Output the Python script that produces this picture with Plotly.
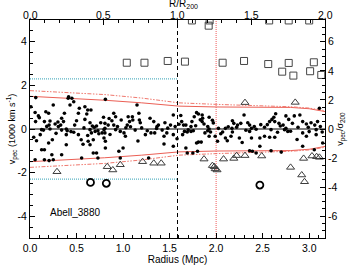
import plotly.graph_objects as go

# ---------------- data (R in Mpc, v in 1000 km/s) ----------------
R200_MPC = 1.585
R_LIMIT = 2.0
V_CUT = 2.3
SIGMA_RATIO = 7.5 / 5.0

member_r = [0.062, 0.01, 0.055, 0.17, 0.20, 0.06, 0.155, 0.215, 0.25, 0.27, 0.205, 0.34, 0.36, 0.33, 0.305,
            0.41, 0.45, 0.43, 0.47, 0.37, 0.52, 0.50, 0.48, 0.59, 0.62, 0.655, 0.61, 0.59, 0.645, 0.67,
            0.715, 0.76, 0.79, 0.145, 0.215, 0.34, 0.39, 0.415, 0.81,
            0.90, 0.92, 0.88, 0.805, 0.84, 0.805, 0.90, 0.98, 1.055, 1.07, 1.10, 1.105, 1.045, 1.15, 1.17,
            1.175, 1.185, 1.13, 1.29, 1.33, 1.38, 1.365, 1.45, 1.51, 1.54, 1.56, 0.94,
            1.63, 1.65, 1.675, 1.74, 1.73, 1.765, 1.79, 1.81, 1.85, 1.855, 1.85, 1.87, 1.91, 1.925, 1.925,
            2.025, 2.10, 2.175, 2.19, 2.23, 2.265, 2.30, 2.34, 2.36, 2.17,
            2.38, 2.41, 2.43, 2.52, 2.575, 2.60, 2.62, 2.63, 2.675, 2.69, 2.72, 2.75, 2.75, 2.78, 2.82,
            2.84, 2.90, 2.93, 2.97, 3.02, 3.06, 3.09, 3.11, 3.12,
            0.125, 0.11, 0.07, 0.20, 0.24, 0.125, 0.155, 0.055, 0.155, 0.205, 0.25, 0.235, 0.34, 0.39,
            0.39, 0.52, 0.55, 0.555, 0.645, 0.66, 0.70, 0.73, 0.625, 0.645, 0.68, 0.68, 0.715, 0.73, 0.775, 0.40,
            0.795, 0.805, 0.795, 0.81, 0.81, 0.92, 0.97, 1.01, 1.025, 1.0, 0.955, 0.97, 1.24, 1.30, 1.34,
            1.275, 1.44, 1.44, 1.47, 1.54, 1.54,
            1.64, 1.66, 1.69, 1.73, 1.755, 1.675, 1.69, 1.75, 1.79, 1.81, 1.84, 1.80, 1.91, 1.94, 1.925,
            1.99, 2.015, 2.07, 2.10, 2.12, 2.175, 2.16, 2.25, 2.36, 2.36,
            2.38, 2.47, 2.52, 2.575, 2.63, 2.59, 2.735, 2.77, 2.93, 2.97, 3.075, 3.075, 2.47, 2.39, 2.43,
            2.59, 2.70, 2.93, 3.055, 3.145,
            0.04, 0.09, 0.28, 0.47, 0.58, 0.86, 1.20, 1.42, 1.60, 2.05, 2.48, 2.88, 3.00, 1.08, 0.62,
            2.22, 2.66, 1.36, 0.30, 1.97,
            0.18, 0.44, 0.69, 0.74, 1.03, 1.26, 1.48, 1.70, 1.78, 1.88, 2.13, 2.32, 2.55, 2.80, 2.99, 3.14,
            0.10, 0.57, 0.85, 1.16, 1.58, 1.83, 2.28, 2.64, 2.87, 1.96, 0.53, 1.62]
member_v = [1.44, 1.02, 0.76, 0.79, 0.72, 0.34, 0.34, 0.37, 1.10, 0.23, 0.18, 0.49, 0.34, 0.18, 0.11,
            1.41, 1.41, 1.10, 1.25, 0.72, 0.72, 0.38, 0.18, 1.02, 0.87, 0.87, 0.69, 0.44, 0.29, 0.14,
            0.14, 0.29, 0.54, -0.05, 0.0, -0.05, 0.0, 1.48, 1.36,
            0.72, 0.56, 0.38, 0.26, 0.18, 0.03, 0.18, 0.41, 0.56, 0.34, 0.56, 0.41, 0.18, 1.10, 0.72,
            0.41, 0.29, -0.05, 0.49, 0.34, 0.18, 0.11, 0.29, 0.18, 0.64, 0.11, 0.11,
            0.34, 0.18, 0.18, 0.34, 0.11, 0.56, 0.75, 0.69, 0.64, 0.49, 0.34, 0.23, 0.11, 0.54, 0.0,
            0.03, 0.03, 0.38, 0.26, 0.18, 0.26, 0.64, 0.29, 0.18, 0.03,
            0.03, 0.11, -0.01, 0.08, 0.34, 0.44, 0.54, 0.34, 0.26, 0.14, 0.18, 0.03, 0.60, 0.44, 0.26,
            0.60, 0.64, 0.34, 0.23, 0.29, 0.18, 0.34, 0.95, 0.11,
            -0.03, -0.26, -0.54, -0.64, -0.49, -0.95, -0.95, -1.41, -1.41, -1.45, -1.41, -1.18, -1.18, -0.26,
            -0.72, -0.26, -0.49, -1.33, -0.03, -0.18, -0.11, -0.08, -0.56, -0.72, -0.49, -1.10, -1.10, -1.33, -0.18, -0.08,
            -0.03, -0.18, -0.41, -0.56, -0.87, -0.03, -0.11, -0.18, -0.33, -0.87, -1.02, -1.33, -0.26, -0.18, -0.18,
            -1.33, -0.33, -0.69, -0.18, -0.26, -0.79,
            -0.26, -0.11, -0.14, -0.11, -0.08, -0.87, -1.10, -1.10, -0.64, -0.60, -0.60, -1.02, -0.08, -0.14, -0.33,
            -0.33, -0.56, -0.14, -0.41, -0.54, -0.14, -0.33, -0.41, -0.11, -1.00,
            -0.41, -0.41, -0.33, -0.38, -0.38, -0.03, -0.03, -0.11, -0.18, -0.33, -0.26, -0.03, -0.79, -1.02, -1.10,
            -1.00, -1.06, -0.79, -0.95, -0.64,
            -0.38, 0.60, -0.20, -0.15, 0.05, -0.25, 0.05, -0.05, 0.22, -0.22, 0.20, 0.08, -0.12, 0.10, -0.30,
            0.08, -0.15, 0.02, 0.32, 0.28,
            0.12, -0.12, 0.08, -0.22, 0.06, -0.08, 0.04, -0.04, 0.15, -0.18, 0.10, -0.06, 0.20, -0.10, 0.08, -0.14,
            0.52, -0.70, 0.48, -0.55, -0.45, 0.42, -0.62, 0.70, -0.48, 0.40, 0.95, 0.62]

square_r = [1.04, 1.23, 1.48, 1.665, 2.07, 2.30, 2.56, 2.78, 2.71, 2.83, 3.01, 3.05, 3.13,
            1.74, 1.93, 1.92, 2.57, 2.78, 3.00]
square_v = [3.04, 3.04, 3.12, 3.09, 3.04, 3.12, 2.98, 3.03, 2.63, 2.45, 2.65, 3.06, 2.48,
            4.98, 4.98, 4.74, 4.98, 4.98, 4.98]

tri_r = [2.31, 2.85,
         0.29, 0.83, 0.89, 0.97, 1.21, 1.33, 1.41, 1.87, 1.96, 1.98, 1.99, 2.01, 2.08, 2.19, 2.22,
         2.31, 2.49, 2.80, 2.94, 2.92, 2.95, 3.03, 3.08, 3.11]
tri_v = [1.21, 1.22,
         -1.96, -1.73, -1.88, -1.64, -1.50, -1.57, -1.57, -1.38, -1.68, -1.73, -1.83, -1.88, -1.38, -1.35, -1.22,
         -1.22, -1.24, -1.76, -1.35, -2.11, -2.42, -1.24, -1.27, -1.30]

circ_r = [0.65, 0.82, 2.47]
circ_v = [-2.45, -2.49, -2.57]

caustic_r = [0.0, 0.4, 0.8, 1.2, 1.6, 2.0, 2.4, 2.8, 3.0, 3.17]
caustic_solid = [1.50, 1.42, 1.32, 1.20, 1.05, 1.01, 0.99, 0.99, 0.93, 0.80]
caustic_dash = [1.76, 1.68, 1.58, 1.42, 1.20, 1.13, 1.09, 1.02, 0.96, 0.84]

x_ticks = [0.0, 0.5, 1.0, 1.5, 2.0, 2.5, 3.0]
top_ticks = [0.0, 0.5, 1.0, 1.5, 2.0]
left_ticks = [-4, -2, 0, 2, 4]
right_ticks = [-6, -4, -2, 0, 2, 4, 6]

X_MAX = 3.17
Y_MAX = 5.0

# ---------------- figure ----------------
fig = go.Figure()

RED = "rgb(235,95,85)"
RED_LIGHT = "rgb(240,120,110)"
CYAN = "rgb(90,180,195)"
DASH_DOT = "4px,1.5px,1.5px,1.5px,1.5px,1.5px"

fig.add_trace(go.Scatter(x=caustic_r, y=caustic_solid, mode="lines",
                         line=dict(color=RED, width=1), hoverinfo="skip"))
fig.add_trace(go.Scatter(x=caustic_r, y=[-v for v in caustic_solid], mode="lines",
                         line=dict(color=RED, width=1), hoverinfo="skip"))
fig.add_trace(go.Scatter(x=caustic_r, y=caustic_dash, mode="lines",
                         line=dict(color=RED_LIGHT, width=1, dash=DASH_DOT), hoverinfo="skip"))
fig.add_trace(go.Scatter(x=caustic_r, y=[-v for v in caustic_dash], mode="lines",
                         line=dict(color=RED_LIGHT, width=1, dash=DASH_DOT), hoverinfo="skip"))

for s in (1, -1):
    fig.add_trace(go.Scatter(x=[0, R200_MPC], y=[s * V_CUT, s * V_CUT], mode="lines",
                             line=dict(color=CYAN, width=1.3, dash="1px,1px"), hoverinfo="skip"))

fig.add_trace(go.Scatter(x=[0, X_MAX], y=[0, 0], mode="lines",
                         line=dict(color="black", width=1), hoverinfo="skip"))
fig.add_trace(go.Scatter(x=[R200_MPC, R200_MPC], y=[-Y_MAX, Y_MAX], mode="lines",
                         line=dict(color="black", width=1, dash="4px,3px"), hoverinfo="skip"))
fig.add_trace(go.Scatter(x=[R_LIMIT, R_LIMIT], y=[-Y_MAX, Y_MAX], mode="lines",
                         line=dict(color="rgb(240,90,90)", width=1, dash="1px,1px"), hoverinfo="skip"))

fig.add_trace(go.Scatter(x=member_r, y=member_v, mode="markers",
                         marker=dict(symbol="circle", size=3.6, color="black"), hoverinfo="skip"))
fig.add_trace(go.Scatter(x=square_r, y=square_v, mode="markers",
                         marker=dict(symbol="square-open", size=7, color="rgb(70,70,70)",
                                     line=dict(width=1)), hoverinfo="skip"))
fig.add_trace(go.Scatter(x=tri_r, y=tri_v, mode="markers",
                         marker=dict(symbol="triangle-up-open", size=7, color="rgb(60,60,60)",
                                     line=dict(width=1)), hoverinfo="skip"))
fig.add_trace(go.Scatter(x=circ_r, y=circ_v, mode="markers",
                         marker=dict(symbol="circle-open", size=7, color="black",
                                     line=dict(width=1.8)), hoverinfo="skip"))

fig.add_trace(go.Scatter(x=[0], y=[0], xaxis="x2", yaxis="y2", mode="markers",
                         marker=dict(opacity=0), hoverinfo="skip"))

FAMILY = "Liberation Sans, Arial, sans-serif"
font = dict(family=FAMILY, size=10.5, color="black")

axis_common = dict(showgrid=False, zeroline=False, showline=True, linecolor="black", linewidth=1,
                   ticks="inside", ticklen=5, tickwidth=1, tickcolor="black", tickfont=font,
                   automargin=False)

fig.update_layout(
    width=349, height=265,
    margin=dict(l=29.5, r=24, t=20, b=27, autoexpand=False),
    paper_bgcolor="white", plot_bgcolor="white",
    showlegend=False, font=font,
    xaxis=dict(range=[0, X_MAX], tickvals=x_ticks, ticktext=[f"{t:.1f}" for t in x_ticks],
               minor=dict(dtick=0.1, ticks="inside", ticklen=3, tickcolor="black"),
               title=dict(text="Radius (Mpc)", font=dict(family=FAMILY, size=10, color="black"), standoff=0),
               **axis_common),
    xaxis2=dict(range=[0, X_MAX / R200_MPC], overlaying="x", side="top",
                tickvals=top_ticks, showticklabels=False,
                minor=dict(dtick=0.1, ticks="inside", ticklen=3, tickcolor="black"),
                **axis_common),
    yaxis=dict(range=[-Y_MAX, Y_MAX], tickvals=left_ticks, ticktext=[str(t) for t in left_ticks],
               minor=dict(dtick=0.5, ticks="inside", ticklen=3, tickcolor="black"),
               title=dict(text="v<sub>pec</sub> (1000 km s<sup>-1</sup>)",
                          font=dict(family=FAMILY, size=9, color="black"), standoff=0),
               **axis_common),
    yaxis2=dict(range=[-Y_MAX * SIGMA_RATIO, Y_MAX * SIGMA_RATIO], overlaying="y", side="right",
                tickvals=right_ticks, ticktext=[str(t) for t in right_ticks],
                minor=dict(dtick=0.5, ticks="inside", ticklen=3, tickcolor="black"),
                title=dict(text="v<sub>pec</sub>/σ<sub>200</sub>",
                           font=dict(family=FAMILY, size=9, color="black"), standoff=0),
                **axis_common),
)

# top axis tick labels (R/R200)
for t in top_ticks:
    fig.add_annotation(text=f"{t:.1f}", xref="x2", yref="paper", x=t, y=1.0, yanchor="bottom",
                       yshift=-3, showarrow=False, font=font)

fig.add_annotation(text="R/R<sub>200</sub>", xref="paper", yref="paper", x=0.52, y=1.0,
                   yshift=8, showarrow=False, font=dict(family=FAMILY, size=10, color="black"),
                   yanchor="bottom")
fig.add_annotation(text="Abell_3880", xref="x", yref="y", x=0.19, y=-3.84, xanchor="left",
                   showarrow=False, font=dict(family=FAMILY, size=10, color="black"))

fig.write_html("out.html", config={"displayModeBar": False},
               post_script="document.body.style.margin='0';")
